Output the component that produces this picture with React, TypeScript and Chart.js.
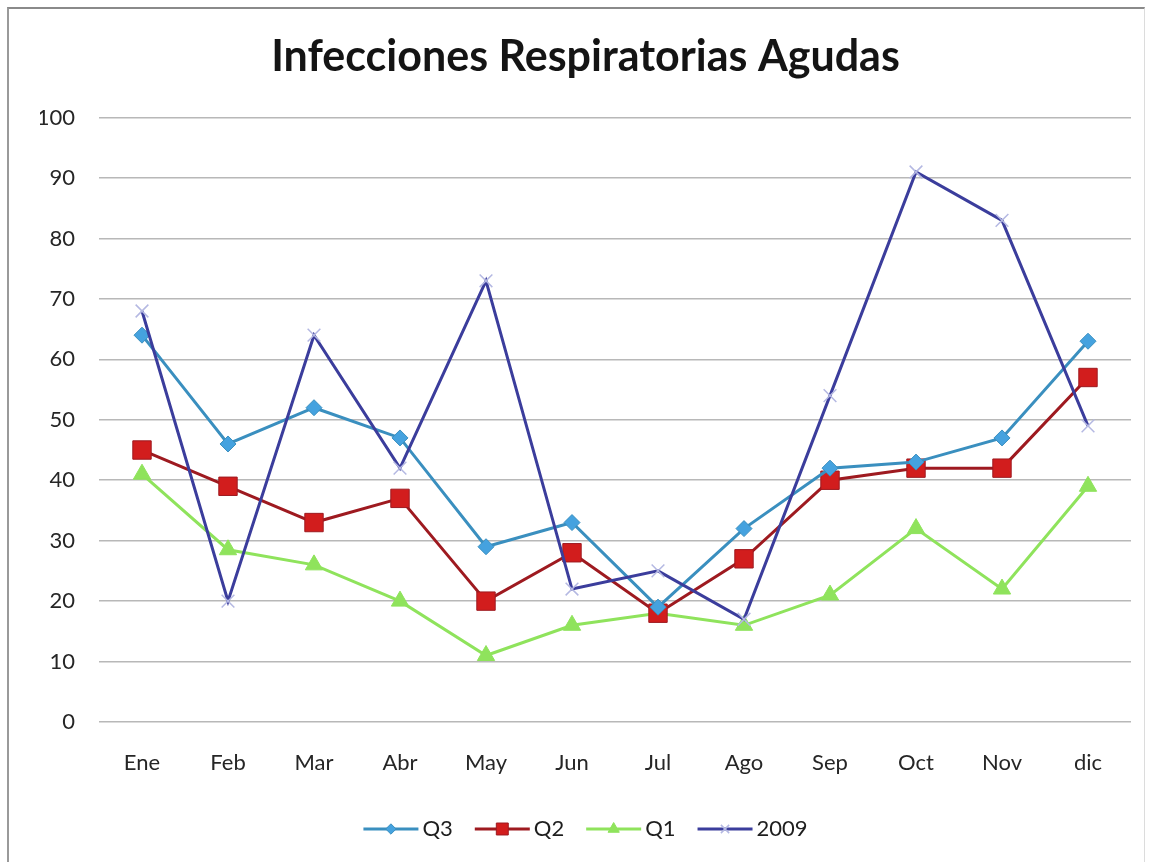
import React, { useEffect, useRef } from 'react';
import { Chart, registerables } from 'chart.js';

Chart.register(...registerables);

const TITLE = 'Infecciones Respiratorias Agudas';
const months = ['Ene', 'Feb', 'Mar', 'Abr', 'May', 'Jun', 'Jul', 'Ago', 'Sep', 'Oct', 'Nov', 'dic'];
const seriesNames = ['Q3', 'Q2', 'Q1', '2009'];
const q3 = [64, 46, 52, 47, 29, 33, 19, 32, 42, 43, 47, 63];
const q2 = [45, 39, 33, 37, 20, 28, 18, 27, 40, 42, 42, 57];
const q1 = [41, 28.5, 26, 20, 11, 16, 18, 16, 21, 32, 22, 39];
const y2009 = [68, 20, 64, 42, 73, 22, 25, 17, 54, 91, 83, 49];
const yMin = 0;
const yMax = 100;
const yStep = 10;

const FONT = 'Lato, "Open Sans", sans-serif';

function drawMarker(ctx: CanvasRenderingContext2D, style: string, x: number, y: number, r: number, fill: string, stroke: string, bw: number) {
  ctx.save();
  ctx.fillStyle = fill;
  ctx.strokeStyle = stroke;
  ctx.lineWidth = bw;
  ctx.beginPath();
  if (style === 'rectRot') {
    ctx.moveTo(x, y - r);
    ctx.lineTo(x + r, y);
    ctx.lineTo(x, y + r);
    ctx.lineTo(x - r, y);
    ctx.closePath();
    ctx.fill();
    if (bw) ctx.stroke();
  } else if (style === 'rect') {
    const s = r * Math.SQRT1_2;
    ctx.rect(x - s, y - s, 2 * s, 2 * s);
    ctx.fill();
    if (bw) ctx.stroke();
  } else if (style === 'triangle') {
    let a = 0;
    ctx.moveTo(x + Math.sin(a) * r, y - Math.cos(a) * r);
    a += (2 * Math.PI) / 3;
    ctx.lineTo(x + Math.sin(a) * r, y - Math.cos(a) * r);
    a += (2 * Math.PI) / 3;
    ctx.lineTo(x + Math.sin(a) * r, y - Math.cos(a) * r);
    ctx.closePath();
    ctx.fill();
    if (bw) ctx.stroke();
  } else if (style === 'crossRot') {
    const s = r * Math.SQRT1_2;
    ctx.moveTo(x - s, y - s);
    ctx.lineTo(x + s, y + s);
    ctx.moveTo(x + s, y - s);
    ctx.lineTo(x - s, y + s);
    ctx.stroke();
  }
  ctx.restore();
}

const legendLines = {
  id: 'legendLines',
  afterDraw(chart: any) {
    const lg = chart.legend;
    if (!lg || !lg.legendHitBoxes) return;
    const ctx = chart.ctx as CanvasRenderingContext2D;
    lg.legendItems.forEach((item: any, i: number) => {
      const hb = lg.legendHitBoxes[i];
      const ds = chart.data.datasets[item.datasetIndex];
      const y = hb.top + hb.height / 2;
      const x0 = hb.left;
      const x1 = hb.left + 55;
      ctx.save();
      ctx.strokeStyle = ds.borderColor;
      ctx.lineWidth = 3;
      ctx.beginPath();
      ctx.moveTo(x0, y);
      ctx.lineTo(x1, y);
      ctx.stroke();
      ctx.restore();
      drawMarker(ctx, ds.pointStyle, (x0 + x1) / 2, y, ds.pointRadius * 0.65, ds.pointBackgroundColor, ds.pointBorderColor, ds.pointBorderWidth);
    });
  },
};

export default function App() {
  const ref = useRef<HTMLCanvasElement | null>(null);

  useEffect(() => {
    if (!ref.current) return;
    const tickFont = { family: FONT, size: 22 };
    const chart = new Chart(ref.current, {
      type: 'line',
      data: {
        labels: months,
        datasets: [
          {
            label: seriesNames[0],
            data: q3,
            borderColor: '#3a8fbf',
            borderWidth: 3,
            pointStyle: 'rectRot',
            pointRadius: 8,
            pointBackgroundColor: '#45a2df',
            pointBorderColor: '#3a8fbf',
            pointBorderWidth: 1,
            tension: 0,
            order: 2,
          },
          {
            label: seriesNames[1],
            data: q2,
            borderColor: '#9e1a20',
            borderWidth: 3,
            pointStyle: 'rect',
            pointRadius: 13,
            pointBackgroundColor: '#d21d1d',
            pointBorderColor: '#9e1a20',
            pointBorderWidth: 1,
            tension: 0,
            order: 3,
          },
          {
            label: seriesNames[2],
            data: q1,
            borderColor: '#8fe35c',
            borderWidth: 3,
            pointStyle: 'triangle',
            pointRadius: 10,
            pointBackgroundColor: '#8fe35c',
            pointBorderColor: '#8fe35c',
            pointBorderWidth: 1,
            tension: 0,
            order: 4,
          },
          {
            label: seriesNames[3],
            data: y2009,
            borderColor: '#3b3d9c',
            borderWidth: 3,
            pointStyle: 'crossRot',
            pointRadius: 9,
            pointBackgroundColor: '#b4b8e2',
            pointBorderColor: '#b4b8e2',
            pointBorderWidth: 1.5,
            tension: 0,
            order: 1,
          },
        ],
      } as any,
      options: {
        responsive: false,
        animation: false,
        events: [],
        layout: { padding: { left: 40, right: 18, top: 0, bottom: 12 } },
        plugins: {
          title: {
            display: true,
            text: TITLE,
            color: '#141414',
            font: { family: FONT, size: 43, weight: 'bold' },
            padding: { top: 31, bottom: 35 },
          },
          legend: {
            position: 'bottom',
            labels: {
              boxWidth: 48,
              boxHeight: 4,
              padding: 22,
              color: '#1e1e1e',
              font: { family: FONT, size: 22 },
              sort: (a: any, b: any) => a.datasetIndex - b.datasetIndex,
              generateLabels: (c: any) =>
                c.data.datasets.map((ds: any, i: number) => ({
                  text: ds.label,
                  datasetIndex: i,
                  fillStyle: 'rgba(0,0,0,0)',
                  strokeStyle: 'rgba(0,0,0,0)',
                  lineWidth: 0,
                  hidden: false,
                  fontColor: '#1e1e1e',
                })),
            },
          },
          tooltip: { enabled: false },
        },
        scales: {
          x: {
            offset: true,
            grid: { display: false, drawTicks: false },
            border: { display: false },
            ticks: { padding: 28, color: '#262626', font: tickFont },
            afterFit: (s: any) => {
              s.height = 74;
            },
          },
          y: {
            min: yMin,
            max: yMax,
            grid: { color: '#b8b8b8', lineWidth: 1.5, drawTicks: false },
            border: { display: false },
            ticks: { stepSize: yStep, padding: 24, color: '#262626', font: tickFont },
            afterFit: (s: any) => {
              s.width = 59;
            },
          },
        },
      } as any,
      plugins: [legendLines],
    });
    return () => chart.destroy();
  }, []);

  return (
    <div style={{ position: 'fixed', left: 0, top: 0, width: 1149, height: 862, background: '#fff' }}>
      <div
        style={{
          position: 'absolute',
          left: 7,
          top: 7,
          width: 1138,
          height: 870,
          borderLeft: '2px solid #9a9a9a',
          borderTop: '2px solid #8a8a8a',
          borderRight: '1px solid #dcdcdc',
          boxSizing: 'border-box',
        }}
      />
      <canvas ref={ref} width={1149} height={862} style={{ position: 'absolute', left: 0, top: 0 }} />
    </div>
  );
}
